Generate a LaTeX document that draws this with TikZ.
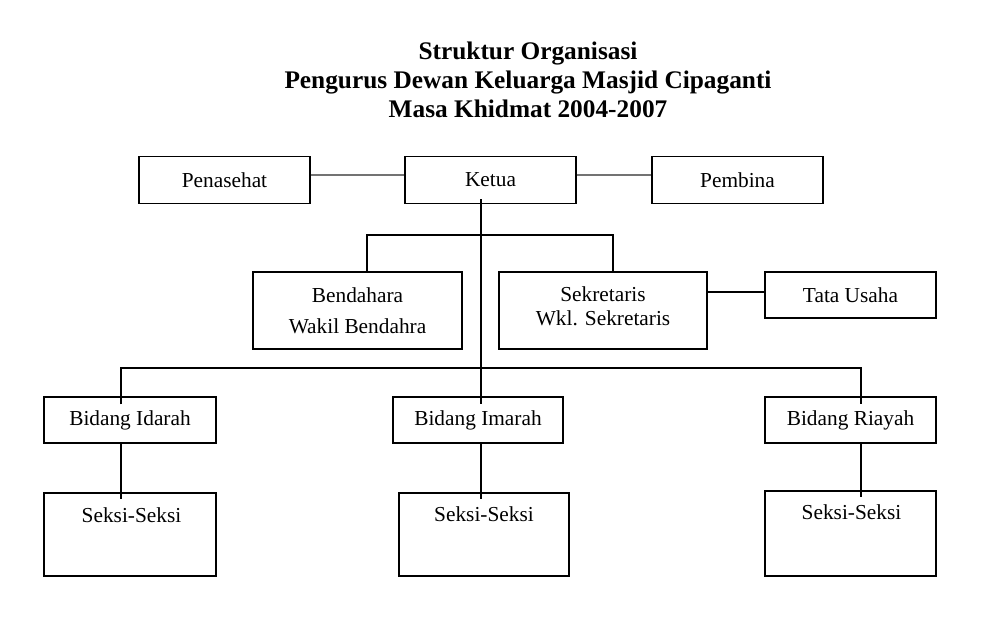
\documentclass[tikz,border=0pt]{standalone}
\usepackage{fontspec}
\setmainfont{Liberation Serif}
\usetikzlibrary{calc}
\begin{document}
\begin{tikzpicture}[x=0.75pt,y=-0.75pt,
  box/.style={draw=black,line width=1.1pt,inner sep=0pt,font=\fontsize{16}{19}\selectfont},
  txt/.style={inner sep=0pt,font=\fontsize{16}{19}\selectfont},
  ttl/.style={inner sep=0pt,anchor=base,font=\fontsize{19}{22}\selectfont\bfseries},
  conn/.style={draw=black,line width=1pt},
  gconn/.style={draw=black!55,line width=0.9pt}]
\useasboundingbox (0,0) rectangle (1000,631);
% title
\node[ttl] (t1) at (528,60) {Struktur Organisasi};
\node[ttl] (t2) at (528,89) {Pengurus Dewan Keluarga Masjid Cipaganti};
\node[ttl] (t3) at (528,117.5) {Masa Khidmat 2004-2007};
% top row
\node[box,minimum width=171*0.75pt,minimum height=47*0.75pt] (pen) at (224.5,180) {Penasehat};
\node[box,minimum width=171*0.75pt,minimum height=47*0.75pt] (ket) at (490.5,180) {Ketua};
\node[box,minimum width=171*0.75pt,minimum height=47*0.75pt] (pem) at (737.5,180) {Pembina};
% second row
\node[box,minimum width=209*0.75pt,minimum height=77*0.75pt] (ben) at (357.5,310.5) {};
\node[txt] (bent1) at (357.5,295) {Bendahara};
\node[txt] (bent2) at (357.5,326) {Wakil Bendahra};
\node[box,minimum width=208*0.75pt,minimum height=77*0.75pt] (sek) at (603,310.5) {};
\node[txt] (sekt1) at (603,294) {Sekretaris};
\node[txt] (sekt2) at (603,318) {Wkl. Sekretaris};
\node[box,minimum width=171*0.75pt,minimum height=46*0.75pt] (tata) at (850.5,295) {Tata Usaha};
% bidang
\node[box,minimum width=172*0.75pt,minimum height=46*0.75pt] (idr) at (130,420) {Bidang Idarah};
\node[box,minimum width=170*0.75pt,minimum height=46*0.75pt] (imr) at (478,420) {Bidang Imarah};
\node[box,minimum width=171*0.75pt,minimum height=46*0.75pt] (ria) at (850.5,420) {Bidang Riayah};
% seksi
\node[box,minimum width=172*0.75pt,minimum height=83*0.75pt] (s1) at (130,534.5) {};
\node[txt] (s1t) at (131.5,515) {Seksi-Seksi};
\node[box,minimum width=170*0.75pt,minimum height=83*0.75pt] (s2) at (484,534.5) {};
\node[txt] (s2t) at (484,514) {Seksi-Seksi};
\node[box,minimum width=171*0.75pt,minimum height=85*0.75pt] (s3) at (850.5,533.5) {};
\node[txt] (s3t) at (851.5,512) {Seksi-Seksi};
% helper coordinates
\coordinate (ty) at (0,175);
\coordinate (sy) at (0,292);
\coordinate (j1) at (481,235);
\coordinate (bl) at (367,235);
\coordinate (sr) at (613,235);
\coordinate (hl) at (121,368);
\coordinate (hr) at (861,368);
% connectors
\draw[gconn] (pen.east |- ty) -- (ket.west |- ty);
\draw[gconn] (ket.east |- ty) -- (pem.west |- ty);
\draw[conn] ($(ket.south -| j1)+(0,-5)$) -- ($(imr.north -| j1)+(0,8)$);
\draw[conn] (ben.north -| bl) -- (bl) -- (sr) -- (sek.north -| sr);
\draw[conn] (sek.east |- sy) -- (tata.west |- sy);
\draw[conn] ($(idr.north -| hl)+(0,8)$) -- (hl) -- (hr) -- ($(ria.north -| hr)+(0,8)$);
\draw[conn] (idr.south -| hl) -- ($(s1.north -| hl)+(0,7)$);
\draw[conn] (imr.south -| j1) -- ($(s2.north -| j1)+(0,7)$);
\draw[conn] (ria.south -| hr) -- ($(s3.north -| hr)+(0,7)$);
\end{tikzpicture}
\end{document}
